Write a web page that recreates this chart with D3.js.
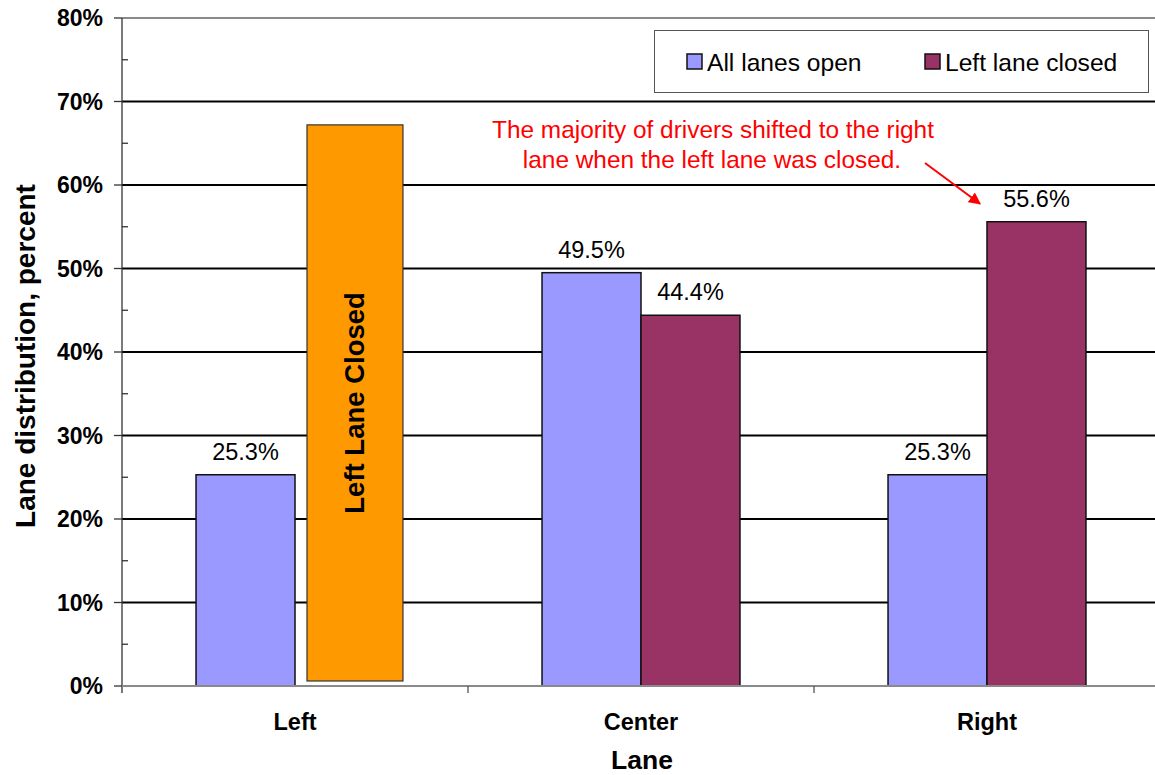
<!DOCTYPE html>
<html>
<head>
<meta charset="utf-8">
<script src="https://cdn.jsdelivr.net/npm/d3@7"></script>
<style>
  html, body { margin: 0; padding: 0; background: #fff; }
  svg { display: block; font-family: "Liberation Sans", Arial, sans-serif; }
</style>
</head>
<body>
<svg id="chart" width="1155" height="775"></svg>
<script>
// Lane distribution data (percent of drivers per lane)
const lanes = ["Left", "Center", "Right"];
const seriesNames = ["All lanes open", "Left lane closed"];
const allLanesOpen = [25.3, 49.5, 25.3];
const leftLaneClosed = [null, 44.4, 55.6];   // left lane unavailable during closure
const seriesColors = ["#9999FF", "#993366"];
const yTicks = [0, 10, 20, 30, 40, 50, 60, 70, 80];
const closedBlockRange = [0.6, 67.2];        // shaded block marking the closed lane

const svg = d3.select("#chart");
const margin = { left: 122, top: 18, right: 1160, bottom: 686 };

const y = d3.scaleLinear().domain([0, 80]).range([margin.bottom, margin.top]);
const x0 = d3.scaleBand().domain(lanes).range([margin.left, margin.right]).paddingInner(0).paddingOuter(0);
const x1 = d3.scaleBand().domain(seriesNames).range([0, x0.bandwidth()]).paddingInner(0).paddingOuter(0.748);

// gridlines
svg.append("g")
  .selectAll("line")
  .data(yTicks.filter(t => t > 0 && t < 80))
  .join("line")
  .attr("x1", margin.left).attr("x2", 1155)
  .attr("y1", d => y(d)).attr("y2", d => y(d))
  .attr("stroke", "#000").attr("stroke-width", 2);

// top border of plot area
svg.append("line")
  .attr("x1", margin.left).attr("x2", 1155)
  .attr("y1", y(80)).attr("y2", y(80))
  .attr("stroke", "#8a8a8a").attr("stroke-width", 2);

// bars
const rows = lanes.map((lane, i) => ({
  lane,
  values: [
    { name: seriesNames[0], value: allLanesOpen[i], color: seriesColors[0] },
    { name: seriesNames[1], value: leftLaneClosed[i], color: seriesColors[1] }
  ]
}));

const groups = svg.append("g").selectAll("g")
  .data(rows).join("g")
  .attr("transform", d => `translate(${x0(d.lane)},0)`);

groups.selectAll("rect")
  .data(d => d.values.filter(v => v.value != null))
  .join("rect")
  .attr("x", d => x1(d.name))
  .attr("width", x1.bandwidth())
  .attr("y", d => y(d.value))
  .attr("height", d => y(0) - y(d.value))
  .attr("fill", d => d.color)
  .attr("stroke", "#111")
  .attr("stroke-width", 1.5);

groups.selectAll("text.val")
  .data(d => d.values.filter(v => v.value != null))
  .join("text")
  .attr("class", "val")
  .attr("x", d => x1(d.name) + x1.bandwidth() / 2)
  .attr("y", d => y(d.value) - 15)
  .attr("text-anchor", "middle")
  .attr("font-size", 23.5)
  .attr("fill", "#000")
  .text(d => d.value.toFixed(1) + "%");

// block marking the closed left lane
const blockX = x0("Left") + x1(seriesNames[1]) + 12;
const blockW = x1.bandwidth() - 3;
svg.append("rect")
  .attr("x", blockX)
  .attr("y", y(closedBlockRange[1]))
  .attr("width", blockW)
  .attr("height", y(closedBlockRange[0]) - y(closedBlockRange[1]))
  .attr("fill", "#FF9900")
  .attr("stroke", "#333")
  .attr("stroke-width", 1.2);

const blockCx = blockX + blockW / 2;
const blockCy = (y(closedBlockRange[0]) + y(closedBlockRange[1])) / 2;
svg.append("text")
  .attr("transform", `translate(${blockCx + 9},${blockCy}) rotate(-90)`)
  .attr("text-anchor", "middle")
  .attr("font-size", 27.5)
  .attr("font-weight", "bold")
  .attr("fill", "#000")
  .text("Left Lane Closed");

// y axis
const yAxis = svg.append("g");
yAxis.append("line")
  .attr("x1", margin.left).attr("x2", margin.left)
  .attr("y1", y(80)).attr("y2", y(0) + 7)
  .attr("stroke", "#333").attr("stroke-width", 1.3);
yAxis.selectAll("line.major")
  .data(yTicks).join("line").attr("class", "major")
  .attr("x1", margin.left - 8).attr("x2", margin.left)
  .attr("y1", d => y(d)).attr("y2", d => y(d))
  .attr("stroke", "#333").attr("stroke-width", 1.3);
yAxis.selectAll("line.minor")
  .data(yTicks.slice(0, -1).map(t => t + 5)).join("line").attr("class", "minor")
  .attr("x1", margin.left).attr("x2", margin.left + 6)
  .attr("y1", d => y(d)).attr("y2", d => y(d))
  .attr("stroke", "#333").attr("stroke-width", 1.3);
yAxis.selectAll("text")
  .data(yTicks).join("text")
  .attr("x", 103)
  .attr("y", d => y(d) + 8)
  .attr("text-anchor", "end")
  .attr("font-size", 23)
  .attr("font-weight", "bold")
  .text(d => d + "%");

// x axis
const xAxis = svg.append("g");
xAxis.append("line")
  .attr("x1", margin.left).attr("x2", 1155)
  .attr("y1", y(0)).attr("y2", y(0))
  .attr("stroke", "#8a8a8a").attr("stroke-width", 2);
xAxis.selectAll("line.tick")
  .data(lanes.slice(1)).join("line").attr("class", "tick")
  .attr("x1", d => x0(d)).attr("x2", d => x0(d))
  .attr("y1", y(0)).attr("y2", y(0) + 7)
  .attr("stroke", "#555").attr("stroke-width", 1.3);
xAxis.selectAll("text")
  .data(lanes).join("text")
  .attr("x", d => x0(d) + x0.bandwidth() / 2)
  .attr("y", 730)
  .attr("text-anchor", "middle")
  .attr("font-size", 23.5)
  .attr("font-weight", "bold")
  .text(d => d);

// axis titles
svg.append("text")
  .attr("x", 642).attr("y", 769)
  .attr("text-anchor", "middle")
  .attr("font-size", 26.5)
  .attr("font-weight", "bold")
  .text("Lane");
svg.append("text")
  .attr("transform", `translate(35,356) rotate(-90)`)
  .attr("text-anchor", "middle")
  .attr("font-size", 28)
  .attr("font-weight", "bold")
  .text("Lane distribution, percent");

// legend
const legend = svg.append("g");
legend.append("rect")
  .attr("x", 654.5).attr("y", 30.5).attr("width", 494).attr("height", 62)
  .attr("fill", "#fff").attr("stroke", "#555").attr("stroke-width", 1);
const legendX = [687, 925];
seriesNames.forEach((name, i) => {
  legend.append("rect")
    .attr("x", legendX[i]).attr("y", 54).attr("width", 15).attr("height", 15)
    .attr("fill", seriesColors[i]).attr("stroke", "#111").attr("stroke-width", 1.5);
  legend.append("text")
    .attr("x", legendX[i] + 20).attr("y", 71)
    .attr("font-size", 24.6)
    .text(name);
});

// annotation
const note = svg.append("text")
  .attr("text-anchor", "middle")
  .attr("font-size", 24.4)
  .attr("fill", "#FF0000");
note.append("tspan").attr("x", 713).attr("y", 138).text("The majority of drivers shifted to the right");
note.append("tspan").attr("x", 712).attr("y", 168).text("lane when the left lane was closed.");

svg.append("defs").append("marker")
  .attr("id", "arrowhead")
  .attr("viewBox", "0 0 10 10")
  .attr("refX", 9).attr("refY", 5)
  .attr("markerWidth", 6).attr("markerHeight", 6)
  .attr("markerUnits", "strokeWidth")
  .attr("orient", "auto")
  .append("path")
  .attr("d", "M0,0 L10,5 L0,10 Z")
  .attr("fill", "#FF0000");

const rightX = x0("Right") + x1(seriesNames[1]);
svg.append("line")
  .attr("x1", 925).attr("y1", 163)
  .attr("x2", rightX - 7).attr("y2", y(leftLaneClosed[2]) - 18)
  .attr("stroke", "#FF0000").attr("stroke-width", 2)
  .attr("marker-end", "url(#arrowhead)");
</script>
</body>
</html>
